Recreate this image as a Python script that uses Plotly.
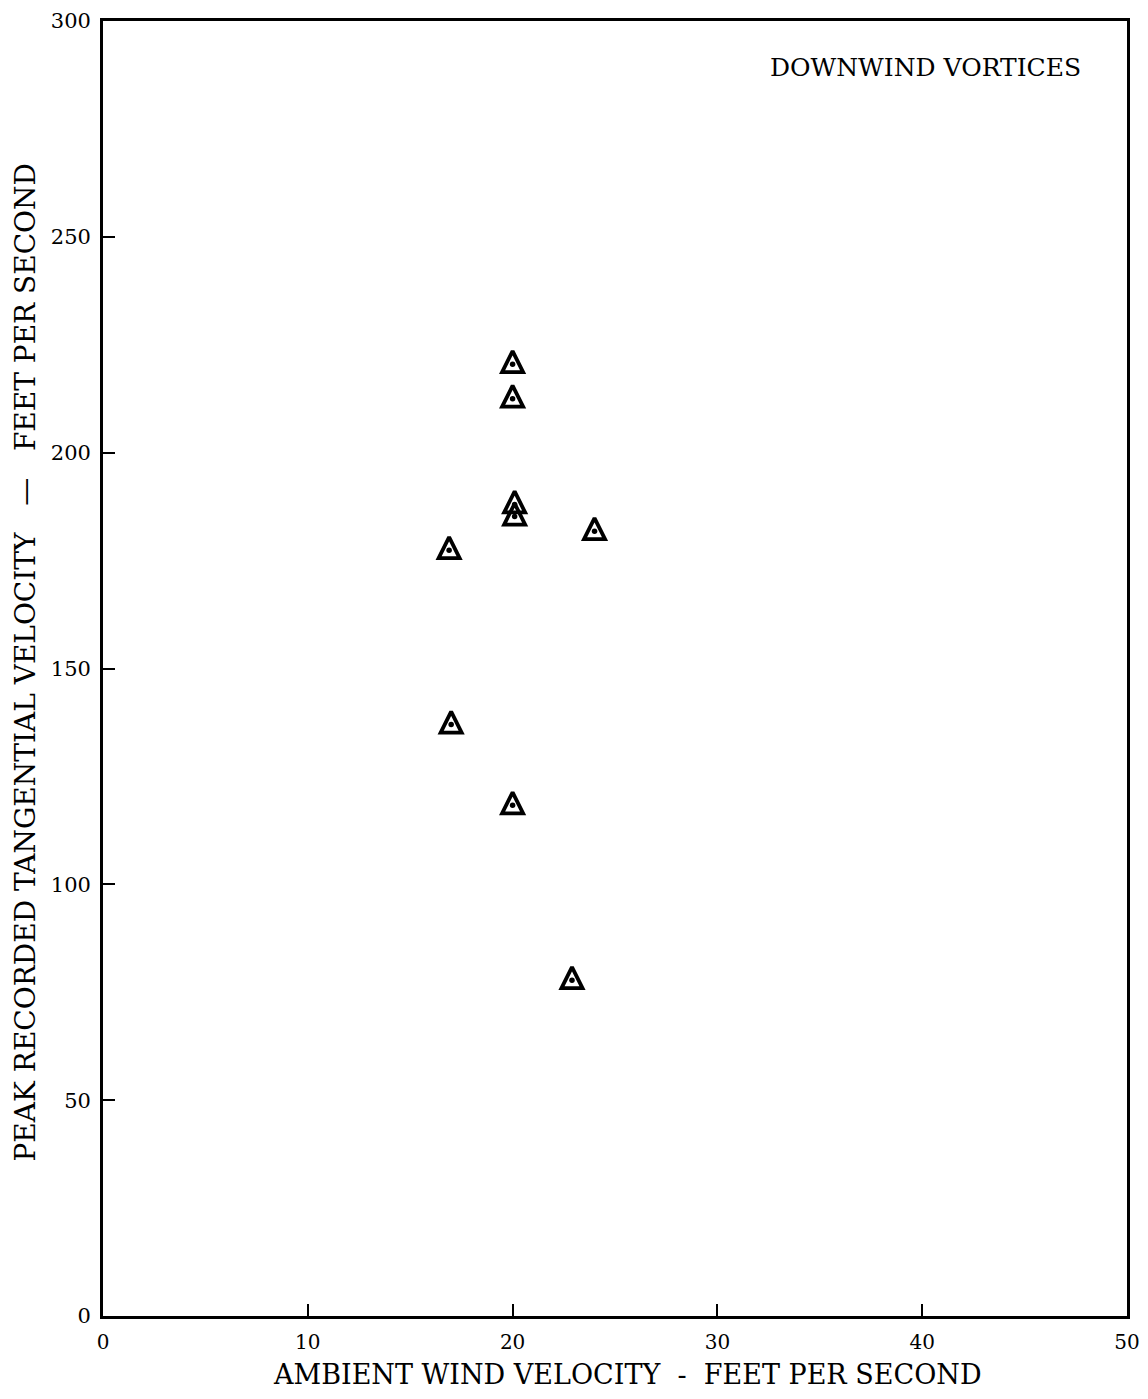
import plotly.graph_objects as go

ambient_wind = [20.0, 20.0, 20.1, 20.1, 24.0, 16.9, 17.0, 20.0, 22.9]
peak_tangential = [220.5, 212.5, 188.0, 185.2, 181.8, 177.4, 137.0, 118.3, 77.8]

x_ticks = [0, 10, 20, 30, 40, 50]
y_ticks = [0, 50, 100, 150, 200, 250, 300]

font_family = "DejaVu Serif, Liberation Serif, serif"

# the page body has an 8px margin, so the figure is sized to fit the window
W, H = 1132, 1383
ML, MR, MT, MB = 95, 13, 13, 75
plot_w = W - ML - MR
plot_h = H - MT - MB
px_per_unit = plot_h / 300.0

tri_size = 21
# arrow-up symbol has its apex at the data point; the triangle's own axis is
# offset so the triangle sits around the data point (dot at ~0.62 of height)
tri_shift = 0.62 * tri_size / px_per_unit

fig = go.Figure()
fig.add_trace(go.Scatter(
    x=ambient_wind, y=peak_tangential, mode="markers", yaxis="y2",
    marker=dict(symbol="arrow-up-open", size=tri_size, color="black",
                line=dict(width=3.8, color="black")),
    showlegend=False, hoverinfo="skip"))
fig.add_trace(go.Scatter(
    x=ambient_wind, y=peak_tangential, mode="markers",
    marker=dict(symbol="circle", size=5.5, color="black"),
    showlegend=False, hoverinfo="x+y"))

fig.add_annotation(
    x=(1083 - 8 - ML) / plot_w, y=1 - (68 - 8 - MT) / plot_h,
    xref="paper", yref="paper", xanchor="right", yanchor="middle",
    text="DOWNWIND VORTICES", showarrow=False,
    font=dict(family=font_family, size=25, color="black"))

fig.add_annotation(
    x=0.5, y=0, xref="paper", yref="paper", xanchor="center", yanchor="bottom",
    xshift=12, yshift=-MB, borderpad=0, showarrow=False,
    text="AMBIENT WIND VELOCITY  -  FEET PER SECOND",
    font=dict(family=font_family, size=27, color="black"))

fig.add_annotation(
    x=0, y=0.5, xref="paper", yref="paper", xanchor="center", yanchor="middle",
    xshift=-(ML + 8 - 25), yshift=6, textangle=-90, showarrow=False,
    text="PEAK RECORDED TANGENTIAL VELOCITY   \u2014   FEET PER SECOND",
    font=dict(family=font_family, size=28, color="black"))

axis_common = dict(
    showgrid=False, zeroline=False, automargin=False,
    showline=True, linecolor="black", linewidth=2.8, mirror=True,
    ticks="inside", ticklen=12, tickwidth=2.4, tickcolor="black",
    ticklabeloverflow="allow",
)

fig.update_layout(
    width=W, height=H,
    margin=dict(l=ML, r=MR, t=MT, b=MB, autoexpand=False),
    paper_bgcolor="white", plot_bgcolor="white",
    font=dict(family=font_family, size=21, color="black"),
    xaxis=dict(range=[0, 50], tickvals=x_ticks,
               ticktext=[str(v) for v in x_ticks],
               tickfont=dict(size=20),
               ticklabelstandoff=6, **axis_common),
    yaxis=dict(range=[0, 300], tickvals=y_ticks,
               ticktext=[str(v) for v in y_ticks],
               tickfont=dict(size=21),
               ticklabelstandoff=5, **axis_common),
    yaxis2=dict(overlaying="y", range=[0 - tri_shift, 300 - tri_shift],
                visible=False, fixedrange=True, automargin=False),
)

fig.write_html("out.html")
